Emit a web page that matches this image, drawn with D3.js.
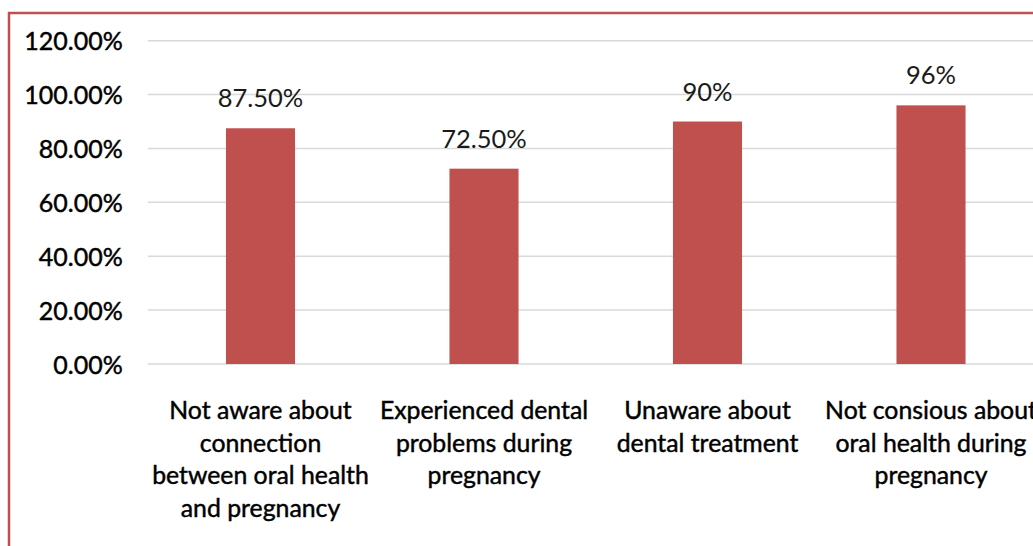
<!DOCTYPE html>
<html>
<head>
<meta charset="utf-8">
<script src="https://cdn.jsdelivr.net/npm/d3@7"></script>
<style>
  html, body { margin: 0; padding: 0; background: #fff; }
  svg { display: block; }
  text { font-family: Lato, "Open Sans", sans-serif; }
</style>
</head>
<body>
<svg id="chart" width="1033" height="546"></svg>
<script>
const categories = [
  ["Not aware about", "connection", "between oral health", "and pregnancy"],
  ["Experienced dental", "problems during", "pregnancy"],
  ["Unaware about", "dental treatment"],
  ["Not consious about", "oral health during", "pregnancy"]
];
const values = [0.875, 0.725, 0.90, 0.96];
const valueLabels = ["87.50%", "72.50%", "90%", "96%"];
const yTicks = [0, 0.2, 0.4, 0.6, 0.8, 1.0, 1.2];

const W = 1033, H = 546;
const svg = d3.select("#chart");
svg.append("rect").attr("width", W).attr("height", H).attr("fill", "#fff");

// outer chart border
svg.append("rect")
  .attr("x", 9).attr("y", 13)
  .attr("width", 1100).attr("height", 600)
  .attr("fill", "none").attr("stroke", "#c0504d").attr("stroke-width", 2.5);

const plot = { left: 148.75, right: 1042.75, top: 40.7, bottom: 364 };
const keys = categories.map((c, i) => "c" + i);

const y = d3.scaleLinear().domain([0, 1.2]).range([plot.bottom, plot.top]);
const x = d3.scaleBand().domain(keys).range([plot.left, plot.right])
  .paddingInner(0.691).paddingOuter(0.3455);

// gridlines
svg.append("g").selectAll("line").data(yTicks).join("line")
  .attr("x1", plot.left - 1).attr("x2", W + 10)
  .attr("y1", d => y(d)).attr("y2", d => y(d))
  .attr("stroke", "#d9d9d9").attr("stroke-width", 1.5);

// y axis
const yAxis = svg.append("g")
  .attr("transform", `translate(${plot.left - 26},0)`)
  .call(d3.axisLeft(y).tickValues(yTicks).tickFormat(d3.format(".2%")).tickSize(0).tickPadding(0));
yAxis.select(".domain").remove();
yAxis.selectAll("text")
  .attr("font-family", "Lato, sans-serif")
  .attr("font-size", 25)
  .attr("fill", "#000")
  .attr("stroke", "#000").attr("stroke-width", 0.45)
  .attr("dy", "0.36em");

// bars
svg.append("g").selectAll("rect").data(values).join("rect")
  .attr("x", (d, i) => x(keys[i]))
  .attr("width", x.bandwidth())
  .attr("y", d => y(d))
  .attr("height", d => y(0) - y(d))
  .attr("fill", "#c0504d");

// value labels
svg.append("g").selectAll("text").data(values).join("text")
  .attr("x", (d, i) => x(keys[i]) + x.bandwidth() / 2)
  .attr("y", d => y(d) - 21)
  .attr("text-anchor", "middle")
  .attr("font-size", 25.5)
  .attr("fill", "#1a1a1a")
  .text((d, i) => valueLabels[i]);

// category labels
const cat = svg.append("g").selectAll("text").data(categories).join("text")
  .attr("text-anchor", "middle")
  .attr("font-size", 24.8)
  .attr("fill", "#000")
  .attr("stroke", "#000").attr("stroke-width", 0.45);
cat.each(function(lines, i) {
  const t = d3.select(this);
  lines.forEach((ln, j) => {
    t.append("tspan")
      .attr("x", x(keys[i]) + x.bandwidth() / 2)
      .attr("y", 419 + j * 32.7)
      .text(ln);
  });
});
</script>
</body>
</html>
